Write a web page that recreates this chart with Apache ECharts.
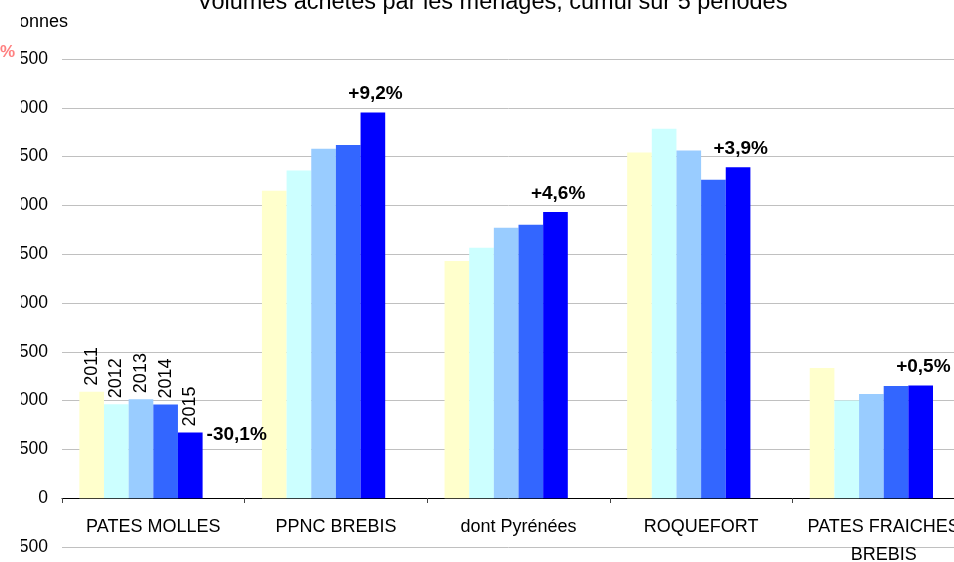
<!DOCTYPE html>
<html>
<head>
<meta charset="utf-8">
<script src="https://cdn.jsdelivr.net/npm/echarts@6/dist/echarts.min.js"></script>
<style>
  html, body { margin: 0; padding: 0; background: #fff; }
  #main { width: 954px; height: 562px; }
</style>
</head>
<body>
<div id="main"></div>
<script>
// categories + one array per year (tonnes)
var categories = ['PATES MOLLES', 'PPNC BREBIS', 'dont Pyrénées', 'ROQUEFORT', 'PATES FRAICHES\nBREBIS'];
var years = ['2011', '2012', '2013', '2014', '2015'];
var v2011 = [1090, 3150, 2431, 3541, 1333];
var v2012 = [962, 3357, 2567, 3785, 1002];
var v2013 = [1015, 3580, 2772, 3562, 1067];
var v2014 = [960, 3620, 2803, 3262, 1149];
var v2015 = [672, 3952, 2933, 3390, 1155];
// evolution 2015 / 2014
var evolution = ['-30,1%', '+9,2%', '+4,6%', '+3,9%', '+0,5%'];
var yTicks = { min: -500, max: 4500, step: 500 };

var colors = ['#FFFFCC', '#CCFFFF', '#99CCFF', '#3366FF', '#0000FF'];
var font = '"Liberation Sans", Arial, sans-serif';

var chart = echarts.init(document.getElementById('main'), null, { renderer: 'canvas' });

var values = [v2011, v2012, v2013, v2014, v2015];

var series = years.map(function (y, i) {
  return {
    type: 'bar',
    name: y,
    barGap: 0,
    barCategoryGap: '19%',
    itemStyle: { color: colors[i] },
    data: values[i].map(function (v, j) {
      if (j !== 0) return v;
      // year written above the first group only
      return {
        value: v,
        label: {
          show: true,
          formatter: y,
          position: 'top',
          distance: 6,
          rotate: 90,
          align: 'left',
          verticalAlign: 'middle',
          fontSize: 18,
          fontFamily: font,
          color: '#000'
        }
      };
    })
  };
});

// empty 6th slot, carries the evolution labels
series.push({
  type: 'bar',
  name: 'evol',
  barGap: 0,
  barCategoryGap: '19%',
  itemStyle: { color: 'rgba(0,0,0,0)' },
  emphasis: { disabled: true },
  data: v2015.map(function (v, j) {
    var neg = evolution[j].charAt(0) === '-';
    return {
      value: v,
      label: neg ? {
        show: true,
        position: [4, 2],
        align: 'left',
        verticalAlign: 'middle'
      } : {
        show: true,
        position: 'top',
        distance: 9,
        offset: [-22, 0]
      }
    };
  }),
  label: {
    formatter: function (p) { return evolution[p.dataIndex]; },
    fontSize: 19,
    fontWeight: 'bold',
    fontFamily: font,
    color: '#000'
  }
});

var option = {
  backgroundColor: '#fff',
  animation: false,
  textStyle: { fontFamily: font },
  title: {
    text: 'Volumes achetés par les ménages, cumul sur 5 périodes',
    left: 197,
    top: -9,
    padding: 0,
    textStyle: { fontSize: 23.5, fontWeight: 'normal', color: '#000', fontFamily: font }
  },
  grid: {
    left: 62,
    right: -21,
    top: 59,
    bottom: 15,
    containLabel: false,
    outerBoundsMode: 'none'
  },
  xAxis: {
    type: 'category',
    data: categories,
    position: 'bottom',
    offset: -49,
    axisLine: { onZero: false, lineStyle: { color: '#000', width: 1 } },
    axisTick: { show: true, interval: 0, length: 5, lineStyle: { color: '#444' } },
    axisLabel: {
      show: true,
      interval: 0,
      hideOverlap: false,
      fontSize: 18,
      lineHeight: 28,
      margin: 15,
      color: '#000',
      fontFamily: font
    }
  },
  yAxis: {
    type: 'value',
    min: yTicks.min,
    max: yTicks.max,
    interval: yTicks.step,
    axisLine: { show: false },
    axisTick: { show: false },
    axisLabel: { fontSize: 17.5, color: '#000', margin: 14, fontFamily: font },
    splitLine: { lineStyle: { color: '#C0C0C0', width: 1 } }
  },
  graphic: [
    {
      type: 'text',
      z: 99,
      style: { text: 'Tonnes', x: 10, y: 22, verticalAlign: 'middle', font: '18px ' + font, fill: '#000' }
    },
    {
      // the picture is cut on the left side
      type: 'rect',
      z: 100,
      shape: { x: 0, y: 0, width: 21, height: 562 },
      style: { fill: '#fff' }
    },
    {
      type: 'text',
      z: 101,
      style: { text: '%', x: 0, y: 52, verticalAlign: 'middle', font: 'bold 17px ' + font, fill: '#FF8080' }
    }
  ],
  series: series
};

chart.setOption(option);
</script>
</body>
</html>
